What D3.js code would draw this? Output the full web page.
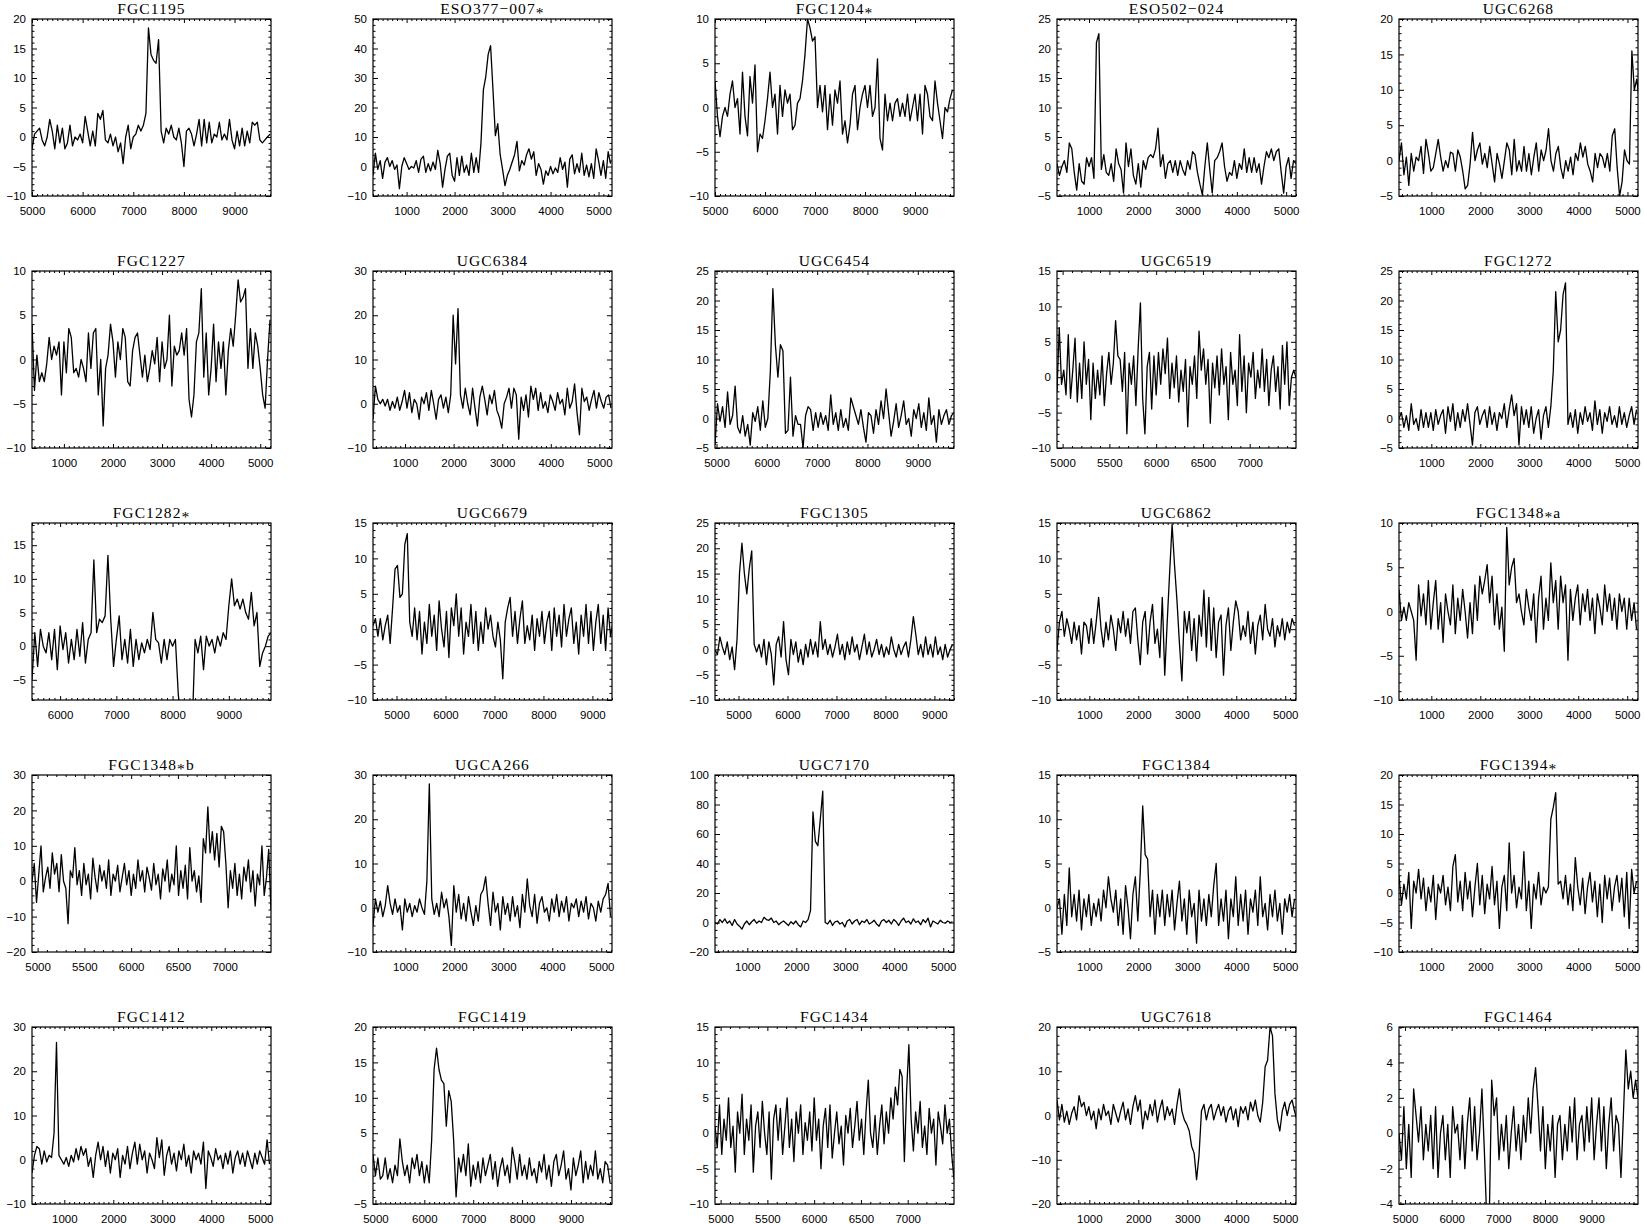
<!DOCTYPE html>
<html>
<head>
<meta charset="utf-8">
<script src="https://cdn.jsdelivr.net/npm/d3@7"></script>
<style>
  body { margin: 0; background: #fff; }
  svg { display: block; }
</style>
</head>
<body>
<svg id="chart" width="1644" height="1224"></svg>
<script>
// HI spectra, one panel per galaxy (flux in mJy vs. heliocentric velocity in km/s)
const names = ['FGC1195', 'ESO377\u2212007*', 'FGC1204*', 'ESO502\u2212024', 'UGC6268',
  'FGC1227', 'UGC6384', 'UGC6454', 'UGC6519', 'FGC1272',
  'FGC1282*', 'UGC6679', 'FGC1305', 'UGC6862', 'FGC1348*a',
  'FGC1348*b', 'UGCA266', 'UGC7170', 'FGC1384', 'FGC1394*',
  'FGC1412', 'FGC1419', 'FGC1434', 'UGC7618', 'FGC1464'];

const xDomains = [[5000, 9720], [300, 5280], [5000, 9780], [350, 5200], [340, 5215],
  [350, 5220], [340, 5260], [4970, 9720], [4940, 7495], [340, 5220],
  [5500, 9750], [4520, 9400], [4520, 9400], [340, 5220], [340, 5220],
  [4940, 7495], [340, 5220], [340, 5220], [340, 5220], [340, 5220],
  [340, 5220], [4950, 9840], [4940, 7495], [340, 5220], [4870, 9995]];

const yDomains = [[-10, 20], [-10, 50], [-10, 10], [-5, 25], [-5, 20],
  [-10, 10], [-10, 30], [-5, 25], [-10, 15], [-5, 25],
  [-8, 18.3], [-10, 15], [-10, 25], [-10, 15], [-10, 10],
  [-20, 30], [-10, 30], [-20, 100], [-5, 15], [-10, 20],
  [-10, 30], [-5, 20], [-10, 15], [-20, 20], [-4, 6]];

const xStep = [1000, 1000, 1000, 1000, 1000, 1000, 1000, 1000, 500, 1000,
  1000, 1000, 1000, 1000, 1000, 500, 1000, 1000, 1000, 1000,
  1000, 1000, 500, 1000, 1000];
const yStep = [5, 10, 5, 5, 5, 5, 10, 5, 5, 5, 5, 5, 5, 5, 5, 10, 10, 20, 5, 5, 10, 5, 5, 10, 2];

// first channel velocity and channel width of each spectrum
const vStart = [5000, 300, 5000, 350, 340, 350, 340, 4970, 4940, 340,
  5500, 4520, 4520, 340, 340, 4940, 340, 340, 340, 340,
  340, 4950, 4940, 340, 4870];
const dv = [50, 50, 50, 50, 50, 50, 50, 50, 24.1, 50,
  50, 50, 50, 50, 50, 24.1, 50, 50, 50, 50,
  50, 50, 24.1, 50, 52.3];

const fgc1195 = [-2,0.5,1,1.5,-0.5,-1.5,0,3,1,-2, 2,-1,1.5,-2,-1,2,-1.5,0,-0.5,0.5,
  -1,3.5,1,-1.5,1,-1.5,4,3,4.5,-0.5, -1,0.5,-1.5,0,-2.5,-1,-4.5,0,2,-2,
  0,0.5,2,1,2,4,18.5,14,13,12.5, 16.5,1,-1,1.5,0.5,2,0,-0.5,1.5,-1,
  -5,1,1.5,0.5,-1.5,0.5,3,-1.5,3,-1, 2.5,-1,0.5,0,2.5,-0.5,0.5,-0.5,3,-0.5,
  -2,1,-1.5,1.5,-1.5,1,-1,2.5,2,2.5, -0.5,-1,-0.5,0,0.5];
const eso377 = [-3,4.5,-1,2,-4,1.5,3,0,2,-1, 0.5,-7.5,0,3,1,-1,0,-0.5,2,-2,
  2.5,3.5,-2,1,-1.5,1.5,-1,5.5,1,-7, -1,3.5,4.5,-3,-5,3,-3,3.5,-2,0.5,
  -3,4.5,-2,3,-2,8,26,30.5,38,41, 26,10.5,14.5,4,-1,-6.5,-3,-1,1.5,4,
  8.5,-1.5,2,0.5,4,6,2.5,5,-3,1, -1,-6,-1.5,-3,0,-2.5,-0.5,-2,3,-1,
  1.5,-7,2.5,4,-2.5,1,-2,4.5,-3,0.5, -3.5,1,-4,6,2,-3,2,-4,5,1];
const fgc1204 = [3,-1,-3.3,-1,0,-1,1.5,3,0,1, -3,4,-1,-3.2,3.5,0.5,4.8,-5,-3,-3.5,
  -1.5,1,4,0,1.5,-3,2.5,-1,2,0.5, 1.5,-2.5,-2,0.5,1,3,6,10,9,7.5,
  8,0,2.5,-0.5,2.5,-2.5,1.5,-2,2,0.5, 3,-3,-1.5,-4,-2,1.5,2.5,-2.5,0,1.5,
  2.5,0,2.5,-1,0,5.5,-3.5,-4.8,1.5,-1.5, 0.5,-1.5,0.5,1,-1,0.5,-1,1.5,-1.5,0,
  1.5,-1.5,1.5,-3,2.5,1.5,-1,-1.5,3,0.5, -1.5,-3.5,0,-0.5,1,2];
const eso502 = [0.5,-1.5,0,1,-1,4,3,-1,-4,0.5, -2.5,-3,1.5,0,1.5,-2,21,22.5,-0.5,2,
  -1,-1.5,0.5,-2.5,3,0.5,-0.5,-4.5,4,0, 3,-1.5,-3,0.5,-3.5,1,-0.5,1.5,2,1.5,
  3,6.5,0,2,-2,0.5,1,-1,1,-1.5, 1,-0.5,-1.5,1,-0.5,2.5,2,-1,-3,-4.8,
  0,4,-0.5,-4.5,1,1.5,2.5,4,0,-2.5, -1,-1.5,1,-2,0.5,-0.5,3,-1,1.5,-1,
  1.5,-1,0.5,-3,0,2.5,1.5,3,1,2.5, 3,-1,-4.5,0,1.5,-2,1,0.5];
const ugc6268 = [0,2.5,-2,0.5,-3.5,1,-1.5,0.5,0,2, -1.8,3,1,-1.5,-1,1,3,0.5,-1.5,0,
  -1,1.2,1,-1.5,1.5,0.5,-1.5,-4,-3.5,-0.5, 4,0,1.5,2.5,-0.5,1,-1,2,-0.5,-3,
  1,-0.5,-2.5,0,2.5,1.5,-2,3,-1.5,0, -1.5,2,-1.5,1,-2,0.5,2.5,-1.5,1.5,0,
  1.5,4.5,0,-1.5,1,2,-1,-2.5,0,-1.5, 0.5,-2,1,0,2.5,0.5,2,-0.5,-1.5,-3,
  1,-1,1,0.5,-1,1,-1.5,3.5,4.5,-1, -5,-3,1.5,0,-0.5,15.5,10,11.5,8.5];
const fgc1227 = [4,-3.5,0.5,-2.5,-1.5,-2.5,-0.5,2.5,0,1.5, 0.5,2,-4,2,-1.5,3.5,2.5,-1.5,-1,-2,
  0,-1,-2.5,3,-1,3,3.5,-4,0,-7.5, -1,0.5,4,2,-2,2,0,3.5,2.5,-2.5,
  -3,1,2.5,3,0.5,-2,0.5,-2.5,-1,1, -0.5,2.5,-2.5,2,-1,0,5,-3,1.5,0.5,
  1,3,0.5,3.5,-4.5,-6.5,-4,2,3,8, -2,3,-4,-1,4,-2.5,2,-1,2,-4,
  1,3.5,1.5,5,9,6.5,7,8,-1,3.5, -1,3,1.5,-1,-4,-5.5,0,4.5];
const ugc6384 = [-3.5,4,1,0,1,-0.5,1,-1.5,0.5,-1, 1.5,-1.5,0.5,3,-1,2.5,-2,1,0,-3.5,
  1.5,0,2.5,-1.5,3,0,-3.5,1,2,-1, 1.5,-2,2,20,9,21.5,2,-1,3.5,0,
  -2.5,3.5,-1,-5,1.5,4,1,-2.5,2,0, 3,-1.5,-3,-5.5,0,1.5,3.5,-1,3.5,2,
  -8,1.5,-1.5,2,-3,4,1,3.5,-1.5,2.5, -1,0.5,-2,2,0.5,-1.5,2.5,0,1,-2.5,
  3.5,-1,0.5,4.5,-2,-7,3.5,0.5,1.5,-1.5, 1,3,-1,2.5,0.5,-1,1.5,2,-1];
const ugc6454 = [-4.5,2.5,-0.5,2,-1.5,4.5,-1,0.5,5.5,-1.5, -2.5,0.5,-3,-1,-4.5,1,-0.5,2,-2,3,
  -1.5,0,8,22,12.5,7,12.5,11.5,-2.5,-2, 7,-3,0.5,-1,-1,-5,0.5,2,1.5,-2,
  1,-1.5,1,-1,0.5,-2,4,-1,1,-2, 1.5,-1.5,0,-2,3.5,2,0.5,-1,1.5,-1.5,
  -4,1,0.5,-2.5,1.5,-1,3,0,5,1, -3,-0.5,2.5,-1.5,0.5,3,-1,0,-3,1.5,
  0,2.5,-1.5,1,-2,3.5,-1,0.5,-4,1.5, -1,0.5,1.5,-1,0.5,1];
const ugc6519 = [-2,7,-1,1,-2.5,6,-3,1,5.5,-3.5, 2,-3,5,-1,2.5,-6,2,-3,1,-2.5,
  3,-4,0.5,3.5,-1,2,8,3,2.5,-2, 3.5,-8,2,-1,3,-4,4,10.5,-3,-8,
  1.5,3.5,-4.5,3,-2.5,3.5,-1,4,0.5,5.5, -3,2,-1.5,3,-3.5,1,-2,2.5,-7,1.5,
  -1,3,-3,6.5,1,4,-1,2.5,-6.5,2, -1.5,3,-2.5,4,-1,1.5,-6,3.5,-1,1,
  -4,6,-2,3,-5,2,0,3.5,-3,1, -1.5,4,-2,2.5,-4,1,3,-2,1.5,-4.5,
  4.5,-1,5,-4,0,1,0];
const fgc1272 = [0,1,-1.5,0.5,-2,2.5,-1,0,-2,1.5, -1.5,1,-1.5,1,-2,1.5,-1,0.5,1.5,-2.5,
  2,-0.5,2.5,-2,1,-1.5,1.5,-0.5,2.5,-1, -4.5,1,2,-1,0.5,1.5,-1.5,2,-1,1,
  -2,1,0,2.5,-1.5,1.5,4,0.5,2.5,-4.5, 2,-1,1.5,-1.5,2,-2.5,0,1.5,-3.5,0.5,
  2,-1.5,2,8,21.5,13,15,21,23,-1, 1,-1.5,1.5,-2.5,1,-1,2,-0.5,1,-2,
  3,-1,1.5,-2.5,1,-0.5,2,-1,0.5,-1.5, 2,-1,1,-1.5,0.5,2,-1,1.5];
const fgc1282 = [-5,2,-3,2.5,0,-1,2,-2,2.5,-3.5, 3,-0.5,2,-2.5,1,-2,2.5,-1.5,3.5,-2.5,
  1,2,12.8,2,4,3.5,4.5,13.5,4,-3, 1,4.5,-2,1,-2.5,2.5,-3,1,-2,0.5,
  -1,1,-0.5,5,1,0.5,-2.5,1,-2,1, 0,1,-7,-12,-12,-12,-12,-12,1,-1,
  1.5,-3.5,1.5,0,1,-1,1.5,0,2,1, 6,10,6,7,5.5,7,5,4,8,3,
  5,-3,-1,0,1.5,2];
const ugc6679 = [0.5,1.5,-1,1.5,-1.5,0.5,2,-2,3,8.5, 9,4.5,5,12,13.5,1,-1,3,-1.5,2.5,
  -3.5,1,-2,3.5,-1,2,-3,4,0,-2.5, 2.5,-4,3,0.5,5,-1,3,-3.5,1,-1,
  3.5,-2,2.5,-3,1,-2,3,0,2,-1, -2.5,1,-1.5,-7,1,3,4.5,-1,2.5,-2,
  1.5,4,-2,0.5,-1.5,2,-3,1.5,-1,2.5, -2,1,2.5,-3,3,-1,2,-2.5,3.5,-1,
  1.5,3,-2,1,-3.5,2,-1,3.5,-2,2.5, -3,1,3.5,-2,2,-3,3,-1,1];
const fgc1305 = [0,-1,2.5,0.5,-1,1.5,-2,0.5,-4,2, 15,21,15,11,16,19.5,1,-0.5,1,-1.5,
  2,-3,1.5,-1,-7,1,2.5,-1.5,5.5,-2, -5,2,-1,1.5,-2.5,0,-3,1,-1.5,2,
  -1,1.5,-1.5,5.5,0,2,-1,1,-1.5,0.5, 3,-1,1,-2,1.5,-1,2.5,-0.5,1,-2,
  0.5,3,-1,1.5,-1.5,0,2,-1,1,-1.5, 0.5,-1,2.5,0,-1.5,1,-1,0.5,1.5,-1.5,
  2,6.5,3,-1,1,-1.5,2.5,-1,1,-1.5, 2.5,-1,0.5,-2,1,-1.5,0,1];
const ugc6862 = [-3,1,2.5,-1,1.5,0,-2,1,-1.5,0.5, -3.5,1,0.5,-2,1.5,-2,1,4.5,0,-2.5,
  1,-1.5,2,0,-3,1.5,-0.5,2.5,-1,1.5, -2,2.5,3,-1.5,-5,1,2.5,-3.5,1,3.5,
  -2,0,-4,4.5,-6.5,1,8,14.8,9,4, -2,-7.3,2.5,-0.5,2.5,-3,1.5,-4.5,2,-1,
  5.5,-2.5,4.5,-3,3,-4,1,2,-6.5,0.5, 3,-3,1,4,2.5,-1.5,0.5,-1,2.5,-2,
  1,-3.5,0.5,2,-1.5,3.5,0,-1,1.5,-2.5, 0.5,-1,1.5,-1.5,1,-0.5,1.5,0.5];
const fgc1348a = [2.5,-1,0.5,-1,1,0,-1,-5.5,3,-0.5, 2,-1.5,3.5,-2,1,3.5,-2,1,-3.5,2,
  0,-1.5,3,-2.5,1.5,-1,2.5,0,-3,1, -2.5,3,-1,4,2,3.5,5.3,1,4,-1.5,
  2,-2,0.5,-4.5,9.5,3,5,6,1,2, 0,-1.5,2.5,0.5,-1,2,-3.5,1.5,4,-2,
  1.5,-1,5.5,1,3.5,-2,4,1,3,-5.5, 2.5,-1,1.5,3,-1.5,2,0,2.5,-1,1.5,
  -2.5,2,0.5,-1.5,3,0,2,-1,1.5,-2, 2,0,1.5,-2,1.5,-1,1,-2];
const fgc1348b = [0,5,-6,2,10,-3,1,4,-2,8, 2,5,-3,7.5,0,-2,-12,3,1,9.5,
  -1,3,-4,5,-1,2,-5,6.5,1,-3, 4.5,0,3,-2,6,-4,2,0,4.5,-3,
  1,5,-1,3,-4,2,-2,6,0,3, -3,4,1,-2.5,5,-1,2,-5,3.5,0,
  6,-3,2,-1,10,-4,3,-2,4.5,-5, 9.5,0,3,-3,1.5,-6,12,8,21,8,
  14,6,13.5,4,15.5,14,5,-7.5,3,-2, 5,-4,2,-5,4,0,6,-3,3,-7,
  2,-1,10,-4,1,9,-8];
const ugca266 = [-4,2,-1,1.5,-2,0.5,5,1,-1.5,2, -1,0.5,-5,2,-1,1,-2,0.5,-1,2,
  0,-1.5,6,28,2,-1.5,1,-2,3.5,0, 2,-2,-8.5,5,-1,3,-2.5,1,-3,2.5,
  -1,-4,0.5,-3,3,4,7,1,-4,3.5, -1,1,-5,2.5,-1.5,1,-3,2.5,-2,0.5,
  -4.5,3,-1,6.5,0.5,-2,3,-3.5,1,2.5, -1,0,-3,2,-1,3,-2,1.5,-1,2.5,
  -3,1,0,2,-2,1.5,-1,2.5,-2.5,1, 0,-3,1.5,-1,2,3,5.5,-2];
const ugc7170 = [0,-1,2,0,2.5,-0.5,1,-2,2,-1, -2.5,-4.5,-1,1,-1.5,0.5,2,-0.5,1,0,
  3.5,2,1.5,3,0,1,-1.5,0,1,-0.5, -2,0.5,-1,1,-1.5,-3,1,0,2,8,
  75,55,52,70,89,0,-1,1.5,-2,0.5, 1,-1,0,-3,1,2,-1,1,2,-1.5,
  1,0,2,-1,0,1.5,-1,-2.5,1,2, 0,1.5,-1,2,0.5,-2,1,3,0,1,
  -1,2.5,0,1,-1.5,2,0,3,-3,1, 0,-1,1.5,0,-0.5,1,0,0.5];
const fgc1384 = [0,1,-3,1.5,-2,4.5,-1,1.5,-1.5,2, -2.5,1,-1,1.5,-2,0.5,-1,1,-1.5,2,
  0,3.5,1,-0.5,2,-2,1,-3,2.5,0, -3.5,1.5,3.5,-1.5,4,11.5,6,5.5,-1,2,
  -3,1.5,-1,2,-2,1.5,-1,2,-2.5,0.5, 3,-1.5,1,-3,2,-1,0.5,-4,2,-1.5,
  1,-2,1.5,-1,2.5,5,-2,1,-1.5,2, -3.5,1,-1,3.5,-2,1.5,-1.5,2,-3,1,
  -0.5,2,-2,3.5,-1,0.5,-2.5,1.5,-1,2, -1.5,0.5,-3,1,-0.5,1.5,-1,1];
const fgc1394 = [3,-2,1.5,-1,3.5,-6,2,0,4,-1, 2.5,-3,1,-1.5,3,-4.5,1.5,0,3,-2,
  1,-3,4.5,6.5,-1.5,2,-3,3.5,-1,2, -4,1,5,-2,3,-3.5,1.5,-1,4.5,-2,
  2,-6,1,3,-3,8.5,0,3,-2.5,1, -1,7,-3,2,-6,1.5,-1,3.5,-2,1,
  0,1,12.5,14.5,17,1.5,2,-1,3,-2, 1.5,-3,6,1,-2,2.5,-3.5,1,3.5,-1.5,
  2,-4,1.5,-5,3,-1,2.5,-3,1,3, -1.5,2.5,-4,3.5,-6,4,0,2];
const fgc1412 = [-3,1,3,2.5,-1,2,-0.5,1,0.5,6, 26.5,1,0,-1,0.5,-1.5,1,-0.5,2.5,0,
  3,1,2.5,-1.5,0.5,-4,1,4,0,3, -1.5,2,-3,1.5,0,2.5,-4,1,-1,3,
  -2,1.5,4,-1,3.5,0,2,-3,1.5,0, -2,5,0.5,4.5,-3.5,1,3,-1,1.5,-2.5,
  2,0,3.5,-1.5,1,-3,2,0,1.5,-1, 4,-6.5,2,0.5,-1.5,2.5,0,1,-2,1.5,
  -1,2,-3,0.5,2,-1,1.5,-1.5,2,0, -2,1.5,-1,2,0.5,-1,4.5,-1];
const fgc1419 = [2,-1,1.5,-1.5,-1,1.5,-1.5,0,-2,0.5, -1,4.2,1,-1,0.5,-2,1.5,0,2,-1,
  1,-2,0.5,-2,4,14,17,14,12.5,12, 6,11,9.5,4,-4,1.5,-0.5,2,-1,3.5,
  -2.5,0.5,-1.5,1,-2,1.5,-1,0.5,2,-1.5, 1,-2.5,0,1.5,-1,0.5,-2,3,1,-1.5,
  2,-1,0.5,-1.5,1.5,-1,0,-2,1,-0.5, 2,-1.5,0.5,-2.5,1,2,-1,0.5,2.5,-1.5,
  0,-3,1.5,-1,0.5,2.5,-2,1,-1.5,0.5, -1,2.5,-1.5,0,-2,1,0.5,-2];
const fgc1434 = [1,-2,4,-3,2,-1,5,-2,1,-5.5, 3,0,5.5,-3,2,-1,4,-5.5,1,3,
  -2,4.5,0,-3,3,-6.5,2,4,-1,3.5, -3,1,5,-2,2,-4,3,0,4,-3,
  1.5,-1,3,-2.5,5,-1,2,-5,1,3.5, -2,4,-3.5,0,3,-1.5,1,-4.5,2.5,0,
  3.5,-2,1,4.5,-1,2,-3,3,7.5,0, -2,2.5,-3,1,4,-1.5,3,0,5,2,
  6.5,4,9,8,-4,6,12.5,2,-2.5,3, 0,4.5,-2,1,-3,3.5,0,2,-4.5,3,
  1,-1.5,4,0,2,-3,-6.5];
const ugc7618 = [3.5,-1,2.5,-1.5,1,-2,0.5,2,-1,4.5, 2,3,0,2,-1,1,-3,1.5,-1,2.5,
  0,1,-2,2.5,0.5,-1.5,1,3,-1,1.5, -2,2,4.5,1,3.5,-3,1,-1,2.5,0,
  3.5,-1.5,1.5,3.5,-1,2,0,1.5,-2,2.5, 6,1,-1,-2,-3.5,-7,-8.5,-14.5,-9,1,
  2.5,-1,1.5,2.5,-1,1,2.5,0,2,-1.5, 1,2,-1,1.5,-2.5,2,0.5,2,-1,3,
  1,3.5,0,-1.5,3,11,12.5,20,18,5, -1,-3.5,1,3,0,2.5,3.5,1,-1];
const fgc1464 = [0,-1.5,1.5,-2,0.5,-2.5,2.5,1,-0.5,1.5, -1.5,0.5,-1,1,-2,1.5,-2.5,0,1,-1.5,
  0.5,-2.5,1.5,0,0.5,-1.5,1,-2,0.5,2, -1,1.5,-1.5,0,2.5,-1,-5,-5,3,1,
  2,-1.5,0.5,-1,1,-2,0,1.5,-1,0.5, -1.5,1,-0.5,2,0,2.5,3.7,1.5,-1,1.5,
  -2,0.5,-1,1,-2.5,0.5,1,-1.5,0.5,-1, 1.5,-0.5,2,-1.5,0.5,1,-1,1.5,-0.5,2,
  -1.5,0.5,2,-1,1.5,-2,0.5,2,-1,1, 0.5,-2.5,1,4.7,2.5,3.5,2,3,2];

const spectra = [fgc1195, eso377, fgc1204, eso502, ugc6268,
  fgc1227, ugc6384, ugc6454, ugc6519, fgc1272,
  fgc1282, ugc6679, fgc1305, ugc6862, fgc1348a,
  fgc1348b, ugca266, ugc7170, fgc1384, fgc1394,
  fgc1412, fgc1419, fgc1434, ugc7618, fgc1464];

// panel grid
const colX = [32, 373, 715, 1057, 1399];
const rowY = [19, 271, 523, 775, 1027];
const W = 239, H = 177;

const svg = d3.select('#chart');
const fmt = d3.format('d');

// majors inside the domain, minors between them
function majorTicks(dom, step) {
  const start = Math.ceil(dom[0] / step) * step;
  return d3.range(start, dom[1] + 1e-9, step);
}
function minorTicks(dom, step, n) {
  const m = step / n;
  const start = Math.ceil(dom[0] / m) * m;
  return d3.range(start, dom[1] + 1e-9, m)
    .filter(v => Math.abs(v / step - Math.round(v / step)) > 1e-6);
}

function styleAxis(sel) {
  sel.select('.domain').remove();
  sel.selectAll('line').attr('stroke', '#000').attr('stroke-width', 1);
  sel.attr('font-family', '"Liberation Sans", Arial, sans-serif').attr('font-size', 11.5);
  sel.selectAll('text').attr('fill', '#000');
}

names.forEach((name, i) => {
  const col = i % 5, row = Math.floor(i / 5);
  const g = svg.append('g').attr('transform', `translate(${colX[col]},${rowY[row]})`);

  const x = d3.scaleLinear().domain(xDomains[i]).range([0, W]);
  const y = d3.scaleLinear().domain(yDomains[i]).range([H, 0]);

  const xMaj = majorTicks(xDomains[i], xStep[i]);
  const xMin = minorTicks(xDomains[i], xStep[i], xStep[i] === 1000 ? 10 : 5);
  const yMaj = majorTicks(yDomains[i], yStep[i]);
  const yMin = minorTicks(yDomains[i], yStep[i], yStep[i] === 20 || yStep[i] === 2 ? 4 : 5);

  // clip so off-scale channels leave the box
  const clipId = `clip-${i}`;
  g.append('clipPath').attr('id', clipId)
    .append('rect').attr('width', W).attr('height', H);

  const line = d3.line()
    .x((d, j) => x(vStart[i] + j * dv[i]))
    .y(d => y(d));

  g.append('path')
    .datum(spectra[i])
    .attr('clip-path', `url(#${clipId})`)
    .attr('fill', 'none')
    .attr('stroke', '#000')
    .attr('stroke-width', 1.3)
    .attr('stroke-linejoin', 'round')
    .attr('d', line);

  // bottom axis with labels, top axis plain
  g.append('g').attr('transform', `translate(0,${H})`)
    .call(d3.axisBottom(x).tickValues(xMaj).tickSize(-4).tickPadding(11).tickFormat(fmt))
    .call(styleAxis);
  g.append('g').attr('transform', `translate(0,${H})`)
    .call(d3.axisBottom(x).tickValues(xMin).tickSize(-2).tickFormat(''))
    .call(styleAxis);
  g.append('g')
    .call(d3.axisTop(x).tickValues(xMaj).tickSize(-4).tickFormat(''))
    .call(styleAxis);
  g.append('g')
    .call(d3.axisTop(x).tickValues(xMin).tickSize(-2).tickFormat(''))
    .call(styleAxis);

  // left axis with labels, right axis plain
  g.append('g')
    .call(d3.axisLeft(y).tickValues(yMaj).tickSize(-5).tickPadding(6).tickFormat(fmt))
    .call(styleAxis);
  g.append('g')
    .call(d3.axisLeft(y).tickValues(yMin).tickSize(-2.5).tickFormat(''))
    .call(styleAxis);
  g.append('g').attr('transform', `translate(${W},0)`)
    .call(d3.axisRight(y).tickValues(yMaj).tickSize(-5).tickFormat(''))
    .call(styleAxis);
  g.append('g').attr('transform', `translate(${W},0)`)
    .call(d3.axisRight(y).tickValues(yMin).tickSize(-2.5).tickFormat(''))
    .call(styleAxis);

  g.append('rect')
    .attr('width', W).attr('height', H)
    .attr('fill', 'none').attr('stroke', '#000').attr('stroke-width', 1.2);

  // title; the asterisk sits at mid-cap height like the plotting font
  const title = g.append('text')
    .attr('x', W / 2).attr('y', -5)
    .attr('text-anchor', 'middle')
    .attr('font-family', '"Liberation Serif", "Times New Roman", serif')
    .attr('font-size', 15.5)
    .attr('letter-spacing', 1.1)
    .attr('fill', '#000');
  const parts = name.split('*');
  parts.forEach((p, k) => {
    if (k > 0) {
      title.append('tspan').attr('dy', 3.5).text('*');
      title.append('tspan').attr('dy', -3.5).text(p);
    } else {
      title.append('tspan').text(p);
    }
  });
});
</script>
</body>
</html>
